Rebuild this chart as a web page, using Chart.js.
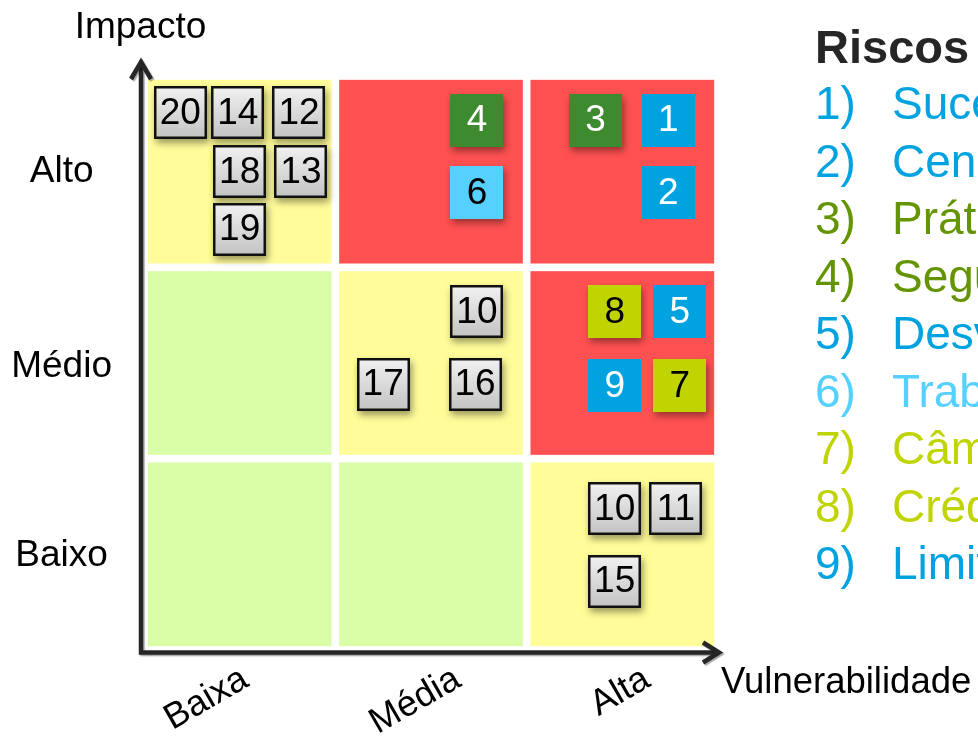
<!DOCTYPE html>
<html lang="pt">
<head>
<meta charset="utf-8">
<title>Matriz de Riscos</title>
<script src="https://cdn.jsdelivr.net/npm/chart.js@4.4.1/dist/chart.umd.min.js"></script>
<style>
  html, body { margin: 0; padding: 0; background: #fff; overflow: hidden; }
  #wrap { position: relative; width: 978px; height: 737px; overflow: hidden; }
  #chartBox { position: absolute; left: 0; top: 0; width: 978px; height: 737px; }
  #riscosTitulo {
    position: absolute; left: 815px; top: 23px;
    font: bold 47px "Liberation Sans", Arial, sans-serif; line-height: 47px;
    color: #262626; white-space: nowrap;
  }
  #listaRiscos {
    position: absolute; left: 815px; top: 75px; margin: 0; padding: 0; list-style: none;
    font: 46px "Liberation Sans", Arial, sans-serif; line-height: 57.5px; white-space: nowrap;
  }
  #listaRiscos .num { display: inline-block; width: 77px; }
</style>
</head>
<body>
<div id="wrap">
  <div id="chartBox"><canvas id="matriz"></canvas></div>
  <div id="riscosTitulo">Riscos</div>
  <ul id="listaRiscos"></ul>
</div>
<script>
// Eixos
const impactoLabels = ['Baixo', 'Médio', 'Alto'];
const impactoTickPos = [0.49, 1.48, 2.5];
const vulnerabilidadeLabels = ['Baixa', 'Média', 'Alta'];
const vulnerabilidadeTickPos = [0.53, 1.64, 2.63];

// Zonas da matriz, linha de baixo para cima, coluna da esquerda para a direita
const cellZones = [
  'verde', 'verde', 'amarelo',
  'verde', 'amarelo', 'vermelho',
  'amarelo', 'vermelho', 'vermelho'
];

// Riscos posicionados na matriz
const riskIds   = ['20', '14', '12', '18', '13', '19', '4', '6', '3', '1', '2', '10', '17', '16', '8', '5', '9', '7', '10', '11', '15'];
const riskX     = [0.19, 0.49, 0.81, 0.50, 0.82, 0.50, 1.74, 1.74, 2.36, 2.74, 2.74, 1.74, 1.25, 1.73, 2.46, 2.80, 2.46, 2.80, 2.46, 2.78, 2.46];
const riskY     = [2.81, 2.81, 2.81, 2.50, 2.50, 2.20, 2.77, 2.39, 2.77, 2.77, 2.39, 1.77, 1.39, 1.39, 1.77, 1.77, 1.38, 1.38, 0.74, 0.74, 0.36];
const riskGroup = ['cinza', 'cinza', 'cinza', 'cinza', 'cinza', 'cinza', 'verdeEscuro', 'azulClaro', 'verdeEscuro', 'azul', 'azul',
                   'cinza', 'cinza', 'cinza', 'lima', 'azul', 'azul', 'lima', 'cinza', 'cinza', 'cinza'];

// Legenda
const riscoNumeros = ['1)', '2)', '3)', '4)', '5)', '6)', '7)', '8)', '9)'];
const riscoNomes = ['Sucessão', 'Cenário econômico', 'Práticas contábeis', 'Segurança da informação', 'Desvios',
                    'Trabalhistas', 'Câmbio', 'Crédito', 'Limites operacionais'];
const riscoGrupos = ['azul', 'azul', 'verdeEscuro', 'verdeEscuro', 'azul', 'azulClaro', 'lima', 'lima', 'azul'];

// Estilos
const FONT = '"Liberation Sans", Arial, sans-serif';
const zoneColors = { verde: '#DAFDA7', amarelo: '#FFFC99', vermelho: '#FF5151' };
const groupStyles = {
  cinza:       { fill: null, text: '#000', border: true, shadow: true },
  verdeEscuro: { fill: '#3E8A2F', text: '#fff', border: false, shadow: true },
  azul:        { fill: '#00A3E0', text: '#fff', border: false, shadow: false },
  azulClaro:   { fill: '#55D0FF', text: '#000', border: false, shadow: true },
  lima:        { fill: '#BFD400', text: '#000', border: false, shadow: true }
};
const legendColors = { azul: '#00A3E0', verdeEscuro: '#649400', azulClaro: '#55D0FF', lima: '#BFD400' };
const CELL_GAP = 0.02;
const BOX = 53;

// Monta a legenda
document.getElementById('listaRiscos').innerHTML = riscoNomes.map((nome, i) => `
  <li style="color:${legendColors[riscoGrupos[i]]}"><span class="num">${riscoNumeros[i]}</span>${nome}</li>
`).join('');

// Fundo colorido das células
const zonePlugin = {
  id: 'zonas',
  beforeDatasetsDraw(chart) {
    const { ctx, scales: { x, y } } = chart;
    ctx.save();
    for (let r = 0; r < 3; r++) {
      for (let c = 0; c < 3; c++) {
        const x1 = x.getPixelForValue(c + CELL_GAP);
        const x2 = x.getPixelForValue(c + 1 - CELL_GAP);
        const y1 = y.getPixelForValue(r + 1 - CELL_GAP);
        const y2 = y.getPixelForValue(r + CELL_GAP);
        ctx.fillStyle = zoneColors[cellZones[r * 3 + c]];
        ctx.fillRect(x1, y1, x2 - x1, y2 - y1);
      }
    }
    ctx.restore();
  }
};

// Quadrados numerados
const boxPlugin = {
  id: 'quadrados',
  afterDatasetsDraw(chart) {
    const ctx = chart.ctx;
    const meta = chart.getDatasetMeta(0);
    meta.data.forEach((pt, i) => {
      const st = groupStyles[riskGroup[i]];
      const x0 = Math.round(pt.x - BOX / 2);
      const y0 = Math.round(pt.y - BOX / 2);
      ctx.save();
      if (st.shadow) {
        ctx.shadowColor = 'rgba(0,0,0,0.4)';
        ctx.shadowBlur = 7;
        ctx.shadowOffsetX = 2;
        ctx.shadowOffsetY = 4;
      }
      if (st.fill) {
        ctx.fillStyle = st.fill;
      } else {
        const grd = ctx.createLinearGradient(0, y0, 0, y0 + BOX);
        grd.addColorStop(0, '#F2F2F2');
        grd.addColorStop(1, '#C2C2C2');
        ctx.fillStyle = grd;
      }
      ctx.fillRect(x0, y0, BOX, BOX);
      ctx.restore();
      if (st.border) {
        ctx.save();
        ctx.strokeStyle = '#111';
        ctx.lineWidth = 2.5;
        ctx.strokeRect(x0 + 1.25, y0 + 1.25, BOX - 2.5, BOX - 2.5);
        ctx.restore();
      }
      ctx.save();
      ctx.fillStyle = st.text;
      ctx.font = '37px ' + FONT;
      ctx.textAlign = 'center';
      ctx.textBaseline = 'middle';
      ctx.fillText(riskIds[i], pt.x, pt.y + 1);
      ctx.restore();
    });
  }
};

// Setas dos eixos e títulos
const axesPlugin = {
  id: 'setas',
  afterDraw(chart) {
    const { ctx, chartArea: a } = chart;
    const ox = a.left - 3;
    const oy = a.bottom + 2.5;
    const topY = a.top - 14;
    const rightX = a.right + 1;
    ctx.save();
    ctx.strokeStyle = '#262626';
    ctx.lineWidth = 4.5;
    ctx.lineJoin = 'miter';
    ctx.shadowColor = 'rgba(0,0,0,0.35)';
    ctx.shadowOffsetX = 1.5;
    ctx.shadowOffsetY = 1.5;
    ctx.shadowBlur = 1;
    ctx.beginPath();
    ctx.moveTo(ox, topY + 2);
    ctx.lineTo(ox, oy);
    ctx.lineTo(rightX - 2, oy);
    ctx.stroke();
    ctx.beginPath();
    ctx.moveTo(ox - 10, topY + 17);
    ctx.lineTo(ox, topY);
    ctx.lineTo(ox + 10, topY + 17);
    ctx.stroke();
    ctx.beginPath();
    ctx.moveTo(rightX - 16, oy - 10);
    ctx.lineTo(rightX, oy);
    ctx.lineTo(rightX - 16, oy + 10);
    ctx.stroke();
    ctx.restore();

    ctx.save();
    ctx.fillStyle = '#000';
    ctx.font = '37px ' + FONT;
    ctx.textAlign = 'center';
    ctx.textBaseline = 'alphabetic';
    ctx.fillText('Impacto', a.left - 3.5, a.top - 38);
    ctx.font = '36.5px ' + FONT;
    ctx.textAlign = 'left';
    ctx.fillText('Vulnerabilidade', a.right + 3, a.bottom + 43);
    ctx.restore();
  }
};

new Chart(document.getElementById('matriz'), {
  type: 'scatter',
  data: {
    datasets: [{
      label: 'Riscos',
      data: riskX.map((x, i) => ({ x: x, y: riskY[i] })),
      pointRadius: 0,
      pointHoverRadius: 0
    }]
  },
  options: {
    responsive: true,
    maintainAspectRatio: false,
    animation: false,
    events: [],
    layout: { padding: { top: 76, right: 260, left: 0, bottom: 0 } },
    plugins: {
      legend: { display: false },
      tooltip: { enabled: false }
    },
    scales: {
      x: {
        type: 'linear',
        min: 0,
        max: 3,
        grid: { display: false, drawTicks: false },
        border: { display: false },
        afterBuildTicks: (s) => { s.ticks = vulnerabilidadeTickPos.map(v => ({ value: v })); },
        afterFit: (s) => { s.height = 87; },
        ticks: {
          autoSkip: false,
          minRotation: 30,
          maxRotation: 30,
          padding: 8,
          color: '#000',
          font: { family: FONT, size: 36 },
          callback: (value, index) => vulnerabilidadeLabels[index]
        }
      },
      y: {
        type: 'linear',
        min: 0,
        max: 3,
        grid: { display: false, drawTicks: false },
        border: { display: false },
        afterBuildTicks: (s) => { s.ticks = impactoTickPos.map(v => ({ value: v })); },
        afterFit: (s) => { s.width = 144; },
        ticks: {
          autoSkip: false,
          crossAlign: 'center',
          padding: 32,
          color: '#000',
          font: { family: FONT, size: 37 },
          callback: (value, index) => impactoLabels[index]
        }
      }
    }
  },
  plugins: [zonePlugin, boxPlugin, axesPlugin]
});
</script>
</body>
</html>
